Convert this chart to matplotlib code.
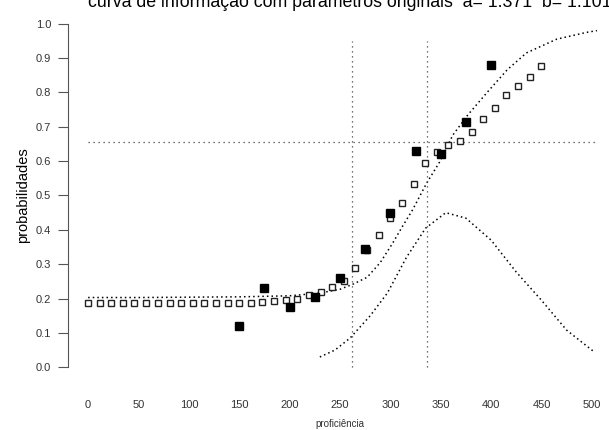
import matplotlib.pyplot as plt

plt.rcParams['font.family'] = ['Liberation Sans', 'DejaVu Sans']

# filled squares (observed)
obs_x = [150, 175, 200, 225, 250, 275, 300, 325, 350, 375, 400]
obs_y = [0.12, 0.23, 0.175, 0.205, 0.26, 0.345, 0.45, 0.63, 0.62, 0.715, 0.88]

# open squares
est_x = [0, 11.5, 23, 34.6, 46, 57.7, 69, 81, 92, 104, 115, 127, 138.5, 150,
         161.5, 173, 184.6, 196, 207.7, 219, 231, 242, 254, 265, 277, 288.5,
         300, 311.5, 323, 334.6, 346, 357.7, 369, 381, 392, 404, 415, 427,
         438.5, 450]
est_y = [0.187, 0.187, 0.187, 0.187, 0.187, 0.187, 0.187, 0.187, 0.187, 0.187,
         0.187, 0.187, 0.187, 0.187, 0.188, 0.19, 0.193, 0.197, 0.20, 0.21,
         0.22, 0.235, 0.25, 0.29, 0.34, 0.385, 0.434, 0.478, 0.533, 0.595,
         0.627, 0.647, 0.659, 0.685, 0.723, 0.755, 0.793, 0.82, 0.845, 0.878]

# characteristic curve
icc_x = [0, 50, 100, 150, 200, 230, 250, 263, 277, 290, 302, 312, 322, 336,
         349, 362, 377, 396, 416, 435, 465, 495, 505]
icc_y = [0.203, 0.203, 0.204, 0.205, 0.208, 0.216, 0.227, 0.242, 0.262, 0.305,
         0.36, 0.41, 0.458, 0.536, 0.598, 0.676, 0.735, 0.80, 0.866, 0.915,
         0.955, 0.975, 0.98]

# information curve
inf_x = [230, 245, 260, 280, 297, 316, 335, 355, 375, 400, 425, 450, 475, 500, 503]
inf_y = [0.03, 0.05, 0.085, 0.15, 0.216, 0.32, 0.405, 0.45, 0.434, 0.37,
         0.277, 0.195, 0.108, 0.05, 0.045]

h_level = 0.655
v_lines = [262, 336]

x_ticks = [0, 50, 100, 150, 200, 250, 300, 350, 400, 450, 500]
y_ticks = [0.0, 0.1, 0.2, 0.3, 0.4, 0.5, 0.6, 0.7, 0.8, 0.9, 1.0]

fig = plt.figure(figsize=(6.09, 4.30), dpi=100)
ax = fig.add_axes([68 / 609, 1 - 381 / 430, 544 / 609, 371 / 430])

ax.plot(icc_x, icc_y, color='black', lw=1.1, ls=(0, (1, 2)))
ax.plot(inf_x, inf_y, color='black', lw=1.1, ls=(0, (1, 2)))
ax.plot([0, 505], [h_level, h_level], color='#444444', lw=0.9, ls=(0, (1, 3)))
for v in v_lines:
    ax.plot([v, v], [0.0, 0.95], color='#444444', lw=0.9, ls=(0, (1, 3)))

ax.plot(est_x, est_y, ls='none', marker='s', ms=4.4, mfc='white',
        mec='#222222', mew=1.0)
ax.plot(obs_x, obs_y, ls='none', marker='s', ms=5.8, color='black')

ax.set_xlim(-20, 520)
ax.set_ylim(-0.04, 1.04)
for s in ['top', 'right', 'bottom']:
    ax.spines[s].set_visible(False)
ax.spines['left'].set_bounds(0, 1)
ax.spines['left'].set_color('#555555')

ax.set_yticks(y_ticks)
ax.set_yticklabels([f'{t:.1f}' for t in y_ticks])
ax.set_xticks(x_ticks)
ax.set_xticklabels([str(t) for t in x_ticks])
ax.tick_params(axis='y', length=7, width=0.8, color='#555555', labelsize=8,
               labelcolor='#333333', pad=5)
ax.tick_params(axis='x', length=0, labelsize=8, labelcolor='#333333', pad=14)

ax.set_ylabel('probabilidades', fontsize=10.5, labelpad=4)
fig.text(0.5 * (88 + 592) / 609, 1 - 424 / 430, 'proficiência', fontsize=7,
         ha='center', va='center', color='#333333')

fig.text(88 / 609, 1 - 7 / 430,
         'curva de informação com parâmetros originais  a= 1.371  b= 1.101',
         fontsize=12.8, ha='left', va='baseline')

fig.savefig('out.png', dpi=100)
